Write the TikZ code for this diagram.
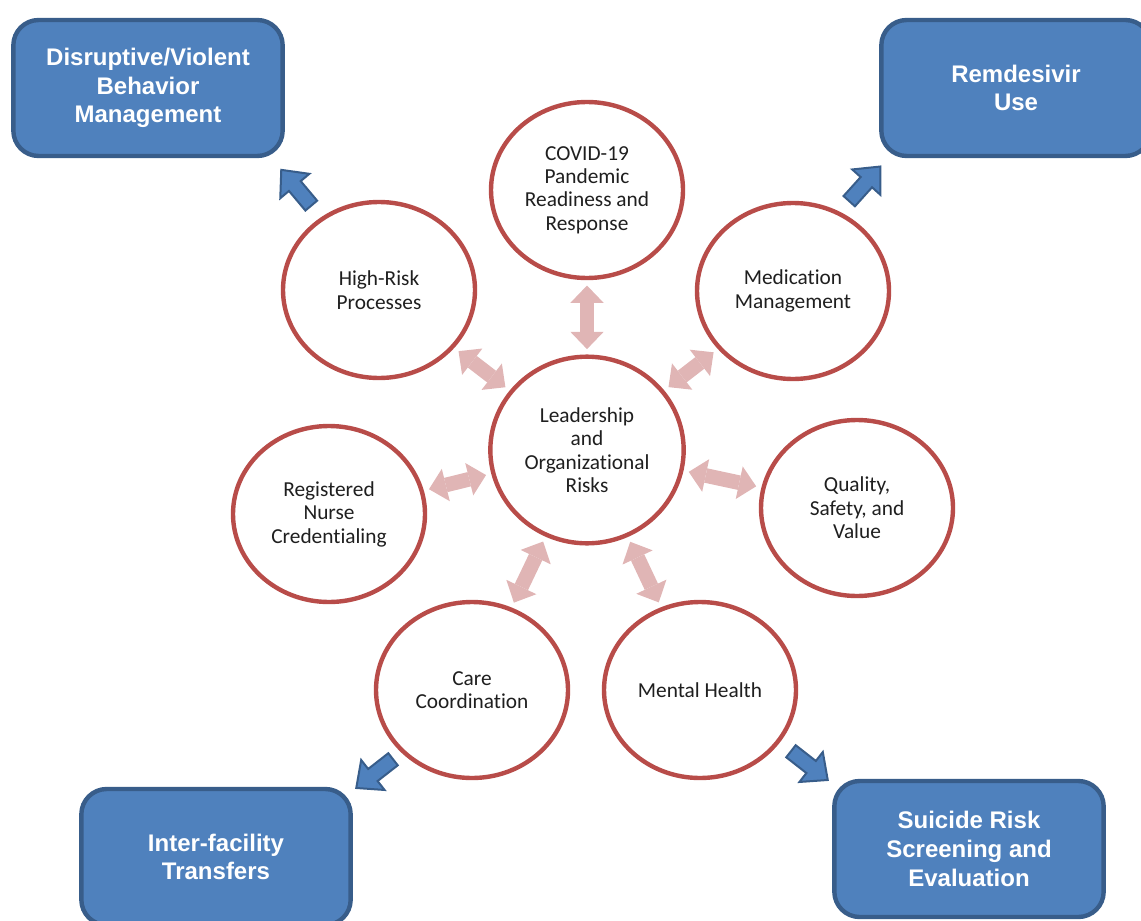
\documentclass[tikz,border=0pt]{standalone}
\usepackage{fontspec}
\setmainfont{Carlito}[Ligatures=NoCommon]
\newfontfamily\boxfont{Liberation Sans}
\usetikzlibrary{shapes.geometric, shapes.arrows, arrows.meta}

\definecolor{riskred}{RGB}{184,76,73}
\definecolor{linkpink}{RGB}{224,181,181}
\definecolor{boxblue}{RGB}{79,129,189}
\definecolor{boxedge}{RGB}{56,93,138}

\tikzset{
  riskcircle/.style={ellipse, draw=riskred, line width=3.3pt, fill=white, minimum width=144pt, minimum height=132pt, inner sep=0pt, align=center, text=black!88, font=\fontsize{16}{17.6}\selectfont},
  areabox/.style={rectangle, rounded corners=19pt, draw=boxedge, fill=boxblue, line width=3.3pt, minimum width=202pt, minimum height=102pt, align=center, text=white, font=\boxfont\bfseries\fontsize{18}{21.5}\selectfont},
  linkarrow/.style={draw=linkpink, line width=11pt, {Triangle[width=25pt,length=13pt,line width=0pt]}-{Triangle[width=25pt,length=13pt,line width=0pt]}, shorten <=4pt, shorten >=4pt},
  focusarrow/.style={single arrow, draw=boxedge, fill=boxblue, line width=1.5pt, minimum height=35pt, inner sep=5pt, single arrow head extend=8.5pt, single arrow tip angle=84}
}

\begin{document}
\begin{tikzpicture}[x=0.75pt,y=0.75pt,yscale=-1,xscale=1]
\useasboundingbox (0,0) rectangle (1141,920);
\clip (0,0) rectangle (1141,920);

%Shape: Ellipse (risk areas)
\node[riskcircle, minimum width=145pt, minimum height=140pt] (lead) at (587,450) {Leadership\\and\\Organizational\\Risks};
\node[riskcircle] (covid) at (587,190) {COVID-19\\Pandemic\\Readiness and\\Response};
\node[riskcircle] (hrp) at (379,290) {High-Risk\\Processes};
\node[riskcircle] (med) at (793,291) {Medication\\Management};
\node[riskcircle] (rnc) at (329,514) {Registered\\Nurse\\Credentialing};
\node[riskcircle] (qsv) at (857,508) {Quality,\\Safety, and\\Value};
\node[riskcircle] (care) at (472,690) {Care\\Coordination};
\node[riskcircle] (mh) at (700,690) {Mental Health};

%Shape: Rounded Rect (focus areas)
\node[areabox] (dis) at (148,88) {Disruptive/Violent\\Behavior\\Management};
\node[areabox] (rem) at (1016,88) {Remdesivir\\Use};
\node[areabox] (itf) at (216,857) {Inter-facility\\Transfers};
\node[areabox] (sui) at (969,849) {Suicide Risk\\Screening and\\Evaluation};

%Straight Lines (double arrows)
\draw[linkarrow] (lead) -- (covid);
\draw[linkarrow] (lead) -- (hrp);
\draw[linkarrow] (lead) -- (med);
\draw[linkarrow] (lead) -- (rnc);
\draw[linkarrow] (lead) -- (qsv);
\draw[linkarrow] (lead) -- (care);
\draw[linkarrow] (lead) -- (mh);

%Block Arrows
\node[focusarrow, rotate=130] (hrpdis) at (299,191) {};
\node[focusarrow, rotate=48] (medrem) at (862,187) {};
\node[focusarrow, rotate=218] (careitf) at (378,771) {};
\node[focusarrow, rotate=-38] (mhsui) at (806,763) {};

\end{tikzpicture}
\end{document}
